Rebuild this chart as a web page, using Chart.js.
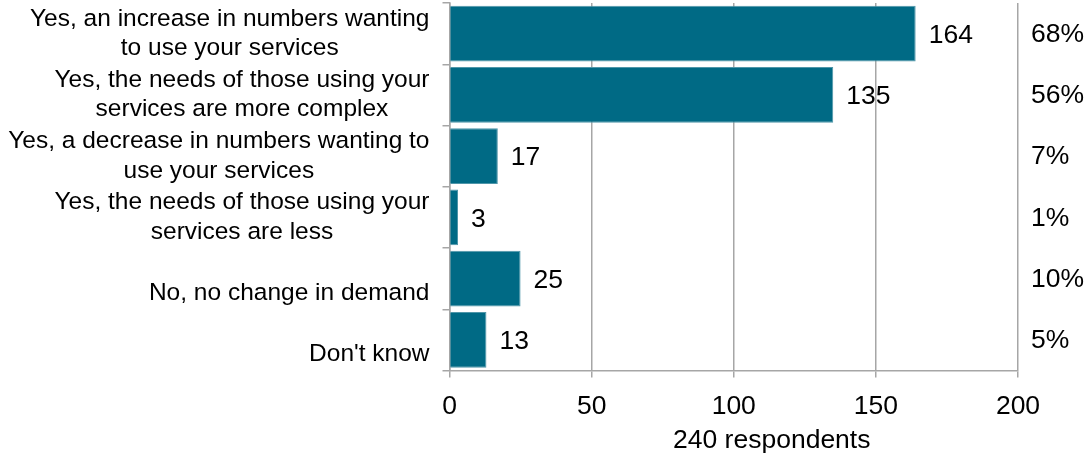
<!DOCTYPE html>
<html>
<head>
<meta charset="utf-8">
<script src="https://cdn.jsdelivr.net/npm/chart.js@4/dist/chart.umd.min.js"></script>
<style>
  html, body { margin: 0; padding: 0; background: #fff; }
  #demandChart { display: block; }
</style>
</head>
<body>
<canvas id="demandChart" width="1088" height="459"></canvas>
<script>
// answers, one per bar (single-line answers sit on the lower line)
const categories = [
  ['Yes, an increase in numbers wanting', 'to use your services'],
  ['Yes, the needs of those using your', 'services are more complex'],
  ['Yes, a decrease in numbers wanting to', 'use your services'],
  ['Yes, the needs of those using your', 'services are less'],
  ['', 'No, no change in demand'],
  ['', "Don't know"]
];
const respondents = [164, 135, 17, 3, 25, 13];
const shares = ['68%', '56%', '7%', '1%', '10%', '5%'];
const xTicks = [0, 50, 100, 150, 200];
const axisTitle = '240 respondents';

const FONT = '"Liberation Sans", Arial, sans-serif';
const GRID = '#a6a6a6';

// category text, value labels, percentages and axis title
const labelPlugin = {
  id: 'labels',
  afterDraw(chart) {
    const ctx = chart.ctx;
    const xs = chart.scales.x;
    const ys = chart.scales.y;
    const area = chart.chartArea;
    ctx.save();
    ctx.fillStyle = '#000';
    ctx.textBaseline = 'middle';
    ctx.font = '24.5px ' + FONT;

    const lh = 29.5;
    categories.forEach((lines, i) => {
      const yc = ys.getPixelForValue(i);
      const maxW = Math.max(...lines.map(l => ctx.measureText(l).width));
      const cx = area.left - 20 - maxW / 2;
      ctx.textAlign = 'center';
      lines.forEach((l, j) => {
        ctx.fillText(l, cx, yc - (lines.length - 1) * lh / 2 + j * lh);
      });
    });

    ctx.font = '26.5px ' + FONT;
    ctx.textAlign = 'left';
    respondents.forEach((v, i) => {
      const yc = ys.getPixelForValue(i);
      ctx.fillText(String(v), xs.getPixelForValue(v) + 13, yc + 2);
      ctx.fillText(shares[i], area.right + 13, yc + 1);
    });

    ctx.textAlign = 'center';
    ctx.fillText(axisTitle, (area.left + area.right) / 2 + 38, 441);
    ctx.restore();
  }
};

new Chart(document.getElementById('demandChart'), {
  type: 'bar',
  data: {
    labels: categories,
    datasets: [{
      data: respondents,
      backgroundColor: '#006a85',
      borderColor: '#4f96a9',
      borderWidth: 1,
      barPercentage: 0.91,
      categoryPercentage: 1
    }]
  },
  options: {
    indexAxis: 'y',
    responsive: false,
    animation: false,
    devicePixelRatio: 1,
    layout: { padding: { top: 3, right: 70, left: 0, bottom: 0 } },
    plugins: {
      legend: { display: false },
      tooltip: { enabled: false }
    },
    scales: {
      x: {
        min: xTicks[0],
        max: xTicks[xTicks.length - 1],
        afterBuildTicks(scale) {
          scale.ticks = xTicks.map(v => ({ value: v }));
        },
        afterFit(scale) { scale.height = 88.5; },
        ticks: {
          color: '#000',
          font: { family: FONT, size: 26.5 },
          padding: 13
        },
        grid: { color: GRID, lineWidth: 1.5, tickLength: 7 },
        border: { color: GRID, width: 1.5 }
      },
      y: {
        afterFit(scale) { scale.width = 449.5; },
        ticks: { display: false },
        grid: { drawOnChartArea: false, color: GRID, lineWidth: 1.5, tickLength: 7 },
        border: { color: GRID, width: 1.5 }
      }
    }
  },
  plugins: [labelPlugin]
});
</script>
</body>
</html>
